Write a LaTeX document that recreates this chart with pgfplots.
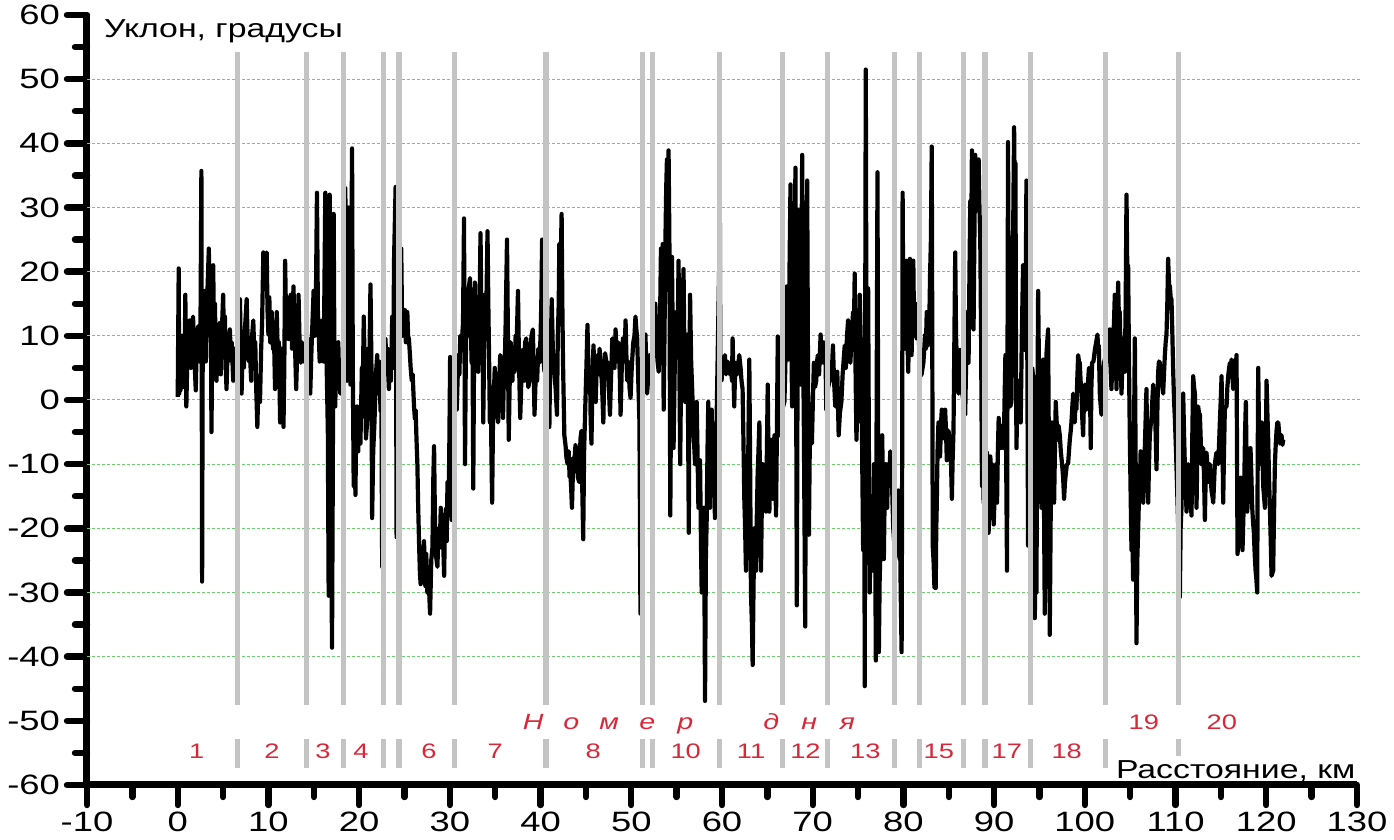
\documentclass[border=0pt]{standalone}
\usepackage{fontspec}
\setmainfont{Liberation Sans}[FakeStretch=1.3]
\usepackage{pgfplots}
\usepackage{pgfplotstable}
\pgfplotsset{compat=1.18}
\definecolor{daygray}{RGB}{196,196,196}
\definecolor{gridgreen}{RGB}{110,205,110}
\definecolor{dayred}{RGB}{214,40,57}

\pgfplotstableread{
x y
0.00 0.5
0.11 20.5
0.16 1.0
0.22 8
0.30 1.5
0.40 6
0.47 10
0.55 2
0.65 9
0.75 4
0.84 16.4
0.95 -1
1.05 6
1.15 10
1.25 7
1.32 12.4
1.45 5
1.55 11
1.69 13
1.80 8
1.99 1.5
2.10 9
2.25 11.5
2.40 6
2.50 9
2.61 35.7
2.69 -28.3
2.75 5
2.80 14
2.90 8
3.00 17
3.10 6
3.17 12
3.30 18
3.43 23.6
3.55 10
3.65 15
3.72 -5
3.80 8
3.91 21
4.00 11
4.10 15
4.20 7
4.28 3
4.40 10
4.50 6
4.64 12
4.75 4
4.85 10
5.01 16.4
5.10 9
5.20 13
5.30 5
5.38 1.7
5.50 8
5.60 6
5.75 11
5.85 7
5.95 9
6.12 3
6.25 8
6.35 5
6.49 5.8
6.60 3
6.75 9
6.86 15.7
7.04 1
7.15 8
7.30 5
7.45 12
7.60 15.7
7.70 10
7.85 6
7.97 7
8.10 3
8.20 10
8.33 12.4
8.45 7
8.55 9
8.65 2
8.78 -4.2
8.90 3
9.07 -0.3
9.20 8
9.30 12
9.44 23
9.55 18
9.65 21
9.81 23
9.90 14
10.00 10.2
10.10 16
10.20 9
10.36 13.7
10.50 8
10.60 11
10.73 1.7
10.82 7
10.92 13.7
11.05 6
11.15 9
11.29 -3.5
11.40 3
11.50 8
11.66 -4.2
11.75 5
11.84 21.7
11.95 12
12.05 16
12.21 9.5
12.35 14
12.47 16.4
12.60 8
12.76 17.7
12.90 10
13.06 1.7
13.20 9
13.32 16.4
13.45 8
13.57 5.8
13.70 9
13.87 6
14.00 8
14.30 7
14.42 9.5
14.61 1
14.75 8
14.98 17
15.10 10
15.25 18
15.35 32.3
15.45 14
15.53 11
15.65 6
15.75 10
15.90 12.4
16.05 6
16.15 14
16.27 32.3
16.35 10
16.45 3
16.55 -5
16.64 -30.5
16.75 32
16.85 10
16.92 -20
17.01 -38.6
17.10 -10
17.19 29
17.28 5
17.37 -1
17.45 8
17.56 4.4
17.70 9
17.80 3
17.93 1
18.05 6
18.20 3
18.40 8
18.48 33
18.55 10
18.67 3
18.75 12
18.85 30
18.95 8
19.04 2.4
19.13 20
19.22 39.2
19.30 5
19.40 -13.4
19.50 -5
19.59 -14.8
19.68 -4
19.77 -1
19.90 -8
20.00 -3
20.14 -6.8
20.30 5
20.40 2
20.51 13
20.65 2
20.75 -6
20.88 -3.5
21.00 8
21.10 3
21.25 18
21.35 6
21.43 -18.4
21.55 -8
21.69 -3.5
21.85 4
21.99 7
22.10 1
22.20 6
22.36 -1.7
22.45 2
22.54 -26
22.60 3
22.80 6
22.91 9.5
23.00 4
23.10 8
23.28 1.7
23.40 6
23.50 3
23.65 13
23.75 5
23.85 22
24.02 33.2
24.13 -21.4
24.25 8
24.50 12
24.64 23.6
24.75 10
24.85 13
24.94 11
25.05 14
25.15 9
25.31 13.7
25.40 10
25.49 9.5
25.60 7
25.68 5
25.80 3
25.90 4
26.05 -1
26.15 -3
26.23 -1.6
26.32 -6
26.42 -10
26.50 -16
26.60 -22
26.70 -27
26.78 -28.7
26.90 -23
27.00 -26
27.15 -22
27.30 -29
27.40 -24
27.52 -30
27.65 -26
27.75 -31
27.82 -33.3
27.95 -25
28.08 -23
28.18 -12
28.26 -7.2
28.35 -18
28.45 -24
28.63 -26
28.75 -20
28.90 -22
29.00 -16.8
29.10 -23
29.20 -19
29.37 -27.4
29.45 -20
29.55 -17
29.65 -22
29.74 -12.8
29.85 -18
29.95 -6
30.03 6.7
30.12 -2
30.21 -18.7
30.35 -3
30.50 2
30.65 6
30.76 -1.5
30.85 3
30.94 7
31.05 4
31.15 10
31.30 8.5
31.45 12
31.56 28.3
31.67 -10
31.75 5
31.85 15.7
31.95 10
32.05 17
32.22 19
32.30 12
32.40 5.8
32.50 9
32.58 -13.8
32.66 5
32.76 18.3
32.85 12
32.95 16
33.05 9
33.13 4.4
33.25 12
33.38 26
33.50 10
33.60 14
33.68 -3.5
33.78 8
33.86 16.4
33.95 10
34.05 17
34.15 26.3
34.25 14
34.33 6
34.41 -3.5
34.50 2
34.58 -8
34.66 -16
34.75 -4
34.85 1
34.95 5
35.05 2
35.15 -1
35.32 -3.5
35.45 3
35.55 7
35.68 6.3
35.78 2
35.86 -2.8
35.95 3
36.05 5
36.15 12
36.30 25
36.40 10
36.49 -6.2
36.60 3
36.70 9
36.78 7.8
36.90 3
37.00 8
37.14 4.4
37.25 10
37.35 8
37.51 17
37.60 8
37.68 2
37.76 -2.8
37.90 4
38.05 7.8
38.20 3
38.30 9
38.42 9.6
38.55 5
38.65 2
38.78 3
38.90 8
39.00 10
39.15 11
39.25 4
39.33 -2.3
39.45 3
39.62 3
39.75 8
39.88 5.8
40.00 10
40.08 15
40.17 25
40.25 12
40.35 6
40.43 4.4
40.52 8
40.61 9.6
40.75 3
40.85 -2
40.97 -4.2
41.05 5
41.15 10
41.23 15.7
41.35 8
41.45 6
41.52 4.4
41.65 2
41.81 -2.3
41.90 10
42.00 15
42.07 24.3
42.20 20
42.32 29
42.40 15
42.47 6.3
42.55 0
42.62 -5.5
42.75 -7
42.85 -9
42.98 -10
43.10 -8
43.20 -12
43.27 -11.5
43.35 -13
43.46 -16.8
43.55 -12
43.62 -9
43.71 -10
43.85 -7
44.00 -8.8
44.10 -12
44.26 -12.8
44.40 -6
44.51 -4.8
44.60 -14
44.70 -21.7
44.80 -8
44.92 -1.5
45.05 5
45.17 11.7
45.26 6
45.35 1.7
45.45 5
45.52 -3
45.61 -6.8
45.72 3
45.83 8.5
45.95 4
46.08 -0.3
46.18 5
46.27 7
46.40 4
46.50 8
46.63 5.8
46.78 2
46.92 -3.5
47.00 3
47.11 7.3
47.25 6
47.36 5.8
47.50 3
47.65 -2.3
47.78 4
47.91 9.6
48.05 7
48.15 5
48.27 11
48.40 6
48.55 9
48.64 7.8
48.73 4
48.82 -2.3
48.95 5
49.08 9.6
49.20 6
49.28 8
49.37 12.4
49.46 7
49.55 3
49.70 6
49.80 2
49.92 0.3
50.05 5
50.21 8.9
50.35 10
50.46 13
50.56 11
50.65 9.6
50.75 4
50.90 -3.5
51.01 -33.3
51.05 5
51.30 8
51.45 6
51.56 10.2
51.74 1
51.90 4
52.00 7
52.11 5
52.20 3
52.45 8
52.55 12
52.65 15
52.80 8
52.90 6
53.02 4.4
53.15 10
53.27 23.6
53.35 15
53.46 24.3
53.57 -1.5
53.66 10
53.75 23.6
53.85 33
53.93 37.5
54.03 30
54.11 38.9
54.20 25
54.30 -18
54.40 5
54.48 22.3
54.57 10
54.66 -7.5
54.80 6
54.95 13.7
55.10 8
55.21 21.7
55.30 6
55.39 -10
55.48 3
55.57 8.5
55.66 14
55.76 20.4
55.85 8
55.94 -0.3
56.05 5
56.19 10.2
56.27 -5
56.34 -20.7
56.41 5
56.48 16.4
56.60 6
56.78 -1
56.90 -6
57.03 -10
57.12 -4
57.21 -0.3
57.30 -8
57.40 -16.8
57.50 -12
57.58 -9.4
57.68 -22
57.76 -30
57.85 -20
57.94 -16.8
58.05 -25
58.13 -46.9
58.22 -25
58.31 -18.7
58.40 -8
58.49 -0.3
58.58 -8
58.68 -16.8
58.78 -5
58.86 -1.5
58.95 -8
59.04 -13.4
59.13 -10
59.22 -18.4
59.30 -12
59.77 27.6
59.82 3
59.95 3
60.10 6
60.20 5
60.32 7
60.45 4
60.55 6
60.68 5.8
60.85 4
60.98 5.8
61.10 3
61.17 9.6
61.26 4
61.35 -1
61.45 5
61.53 5.8
61.70 4
61.90 7
62.05 5
62.15 3
62.27 1.7
62.35 -5
62.46 -15.4
62.55 -20
62.64 -26.6
62.73 -20
62.83 -16.8
62.92 -5
63.01 6.3
63.10 -10
63.19 -30
63.30 -35
63.38 -41.3
63.47 -30
63.56 -20
63.65 -24
63.75 -26.6
63.84 -18
63.93 -11.5
64.02 -8
64.12 -3.5
64.20 -15
64.30 -26.6
64.40 -15
64.49 -10
64.58 -12
64.67 -10.8
64.76 -14
64.86 -17.4
64.95 -8
65.04 2.4
65.13 -10
65.22 -17.4
65.32 -12
65.41 -6.2
65.50 -10
65.59 -15.4
65.68 -9
65.78 -5.5
65.87 -12
65.96 -18
66.05 -5
66.15 9.9
66.28 0
66.40 -5.5
66.55 -2
66.88 -0.3
66.98 5
67.06 12
67.14 17.7
67.24 10
67.33 6.3
67.44 20
67.55 33.6
67.64 10
67.73 -1
67.82 8
67.92 17.7
68.01 25
68.10 36.2
68.18 0
68.25 -32
68.34 10
68.43 29.6
68.55 10
68.66 2.4
68.75 20
68.84 38.2
68.93 10
69.02 -3.5
69.10 -20
69.17 -35.3
69.27 5
69.39 34.2
69.48 5
69.58 -21
69.67 -8
69.76 -3.5
69.85 -6
69.91 -6.8
70.02 0
70.13 5.8
70.25 2
70.39 3
70.48 6
70.57 7
70.70 4
70.87 10.2
71.00 6
71.13 5.8
71.25 9
71.39 8.5
71.50 -1.5
71.70 2
71.87 3
72.00 6
72.10 4
72.23 8.5
72.35 3
72.49 -1
72.60 2
72.71 4.4
72.86 -5.5
73.00 -2
73.16 -0.3
73.30 4
73.40 6
73.53 8.5
73.65 5
73.78 10
73.90 12.4
74.00 7
74.15 5.8
74.30 10
74.45 13.7
74.55 12
74.63 19.7
74.72 5
74.82 -6.2
74.90 -2
75.00 -3.5
75.10 8
75.19 16.4
75.28 10
75.37 6.3
75.46 -10
75.56 -23.4
75.65 5
75.74 -44.6
75.80 20
75.85 51.5
75.92 10
76.00 -15
76.11 17.4
76.20 -10
76.29 -30
76.38 -15
76.48 -23.4
76.57 -20
76.66 -26.6
76.75 -10
76.85 -13.4
76.96 -40.6
77.05 0
77.14 35.5
77.22 -10
77.29 -39.3
77.38 -28
77.47 -23.4
77.56 -12
77.66 -5.5
77.75 -15
77.84 -24.8
77.93 -15
78.03 -10
78.12 -14
78.21 -16.8
78.30 -10
78.43 -13.4
78.55 -8
78.69 -10
78.80 -16
78.88 -20
79.10 -24.8
79.25 -23.4
79.35 -18
79.43 -14.1
79.52 -18
79.62 -20
79.70 -30
79.80 -39.3
79.86 -10
79.91 32.3
80.00 10
80.09 21
80.20 8
80.35 21.7
80.44 10
80.53 4.4
80.62 12
80.72 22
80.81 12
80.90 7
81.00 15
81.09 21.7
81.18 10
81.28 13.7
81.37 12
81.46 9.6
81.55 15
81.64 12.4
81.74 8
81.83 3.7
82.00 4
82.20 5.8
82.30 8
82.38 10.2
82.47 8
82.57 13.7
82.66 10
82.75 8.5
82.85 12
82.94 19.7
83.03 25
83.12 39.5
83.18 10
83.23 -22.7
83.32 -25
83.42 -29.3
83.50 -28
83.56 -29.3
83.62 -20
83.67 -16.8
83.76 -8
83.86 -3.5
83.95 -6
84.04 -8.8
84.13 -4
84.23 -1.5
84.32 -5
84.41 -3.5
84.50 -6
84.60 -1.5
84.70 -5
84.78 -9.4
84.88 -6
84.97 -4.8
85.06 -6
85.15 -7.5
85.25 -10
85.34 -15.4
85.43 -9
85.52 -4.8
85.62 10
85.71 23
85.80 10
85.89 6.3
85.98 2
86.07 1
86.17 4
86.26 7.8
86.40 2
86.81 -2.3
86.90 5
87.00 13.7
87.09 8
87.18 5.8
87.28 20
87.37 31
87.45 20
87.55 38.9
87.64 25
87.73 11
87.82 25
87.92 38.2
88.00 30
88.10 29.6
88.20 33
88.29 37.5
88.38 30
88.47 25
88.56 10
88.66 -13.4
88.75 0
88.84 -16
88.92 -10
89.03 -18.7
89.12 -12
89.21 -8.2
89.30 -14
89.39 -20.7
89.48 -15
89.58 -8.8
89.67 -12
89.76 -10
89.85 -15
89.95 -19.4
90.05 -15
90.13 -12.8
90.22 -10
90.32 -16
90.41 -8
90.50 -2.8
90.60 -5
90.69 -7.5
90.78 -4
90.87 -5.5
90.96 -4
91.05 -7.5
91.15 0
91.24 7
91.33 -10
91.42 -26.6
91.53 40.2
91.62 10
91.79 -1
91.90 -0.3
91.98 10
92.05 20
92.12 30
92.20 42.5
92.28 30
92.35 36.9
92.40 10
92.46 -7.5
92.55 0
92.64 3
92.75 -2
92.85 1
92.93 -3.5
93.05 10
93.19 21
93.30 10
93.38 7.8
93.47 15
93.56 34.2
93.65 10
93.74 -22.7
93.85 -10
94.10 0
94.20 5
94.29 3.7
94.38 -20
94.48 -34
94.57 -25
94.66 -30
94.75 -5
94.85 17
94.94 5
95.03 1.7
95.12 -8
95.21 -16.8
95.30 -5
95.40 6.3
95.49 -15
95.58 -33.3
95.67 -10
95.76 7
95.85 9
95.95 11
96.04 -10
96.13 -36.6
96.24 -16.8
96.39 -3.5
96.50 -8
96.61 -16
96.70 -8
96.79 -0.3
96.88 -3
96.98 -6.2
97.10 -4
97.24 -5.5
97.35 -8
97.49 -10
97.60 -12
97.71 -15.4
97.80 -13
97.90 -11.5
98.02 -10
98.15 -10
98.25 -8
98.34 -6.2
98.43 -5
98.52 -3.5
98.62 -1
98.71 1
98.80 -2
98.89 -3.5
98.98 0
99.07 -1.5
99.16 3
99.26 7
99.35 6
99.44 5.8
99.53 3
99.63 1
99.72 -3
99.81 -5.5
99.90 0
99.99 2.4
100.08 0
100.18 -1.5
100.27 1
100.36 3
100.45 5
100.54 4.4
100.65 -7.5
100.72 2
100.80 5.8
100.95 6
101.10 7.8
101.25 9
101.39 10.2
101.46 8
101.54 8.5
101.65 1
101.75 -1
101.83 -2.3
101.92 2
102.01 4.4
102.15 6
102.45 8
102.57 9.6
102.66 6
102.75 11
102.84 5
102.93 1.7
103.03 6
103.12 9.6
103.21 12
103.30 16.4
103.40 8
103.49 1.7
103.58 10
103.67 18.3
103.76 12
103.85 13.7
103.95 6
104.04 1
104.13 5
104.22 9.6
104.31 6
104.40 4.4
104.50 15
104.59 32
104.68 20
104.77 21
104.87 5
104.96 -6.2
105.05 -15
105.14 -23.4
105.23 -20
105.32 -28
105.42 -5
105.51 9.6
105.60 -10
105.69 -37.9
105.78 -25
105.88 -20
105.97 -15
106.06 -13.4
106.15 -8
106.24 -10
106.33 -14
106.43 -16
106.52 -10
106.61 -7.5
106.70 -3
106.79 1.7
106.88 -8
106.98 -16
107.07 -10
107.16 -5.5
107.25 -4
107.35 -2.8
107.44 0
107.53 2.4
107.62 1
107.71 -0.3
107.80 -5
107.90 -10.8
107.99 -2
108.08 4.4
108.17 6
108.26 5.8
108.35 4
108.45 3
108.54 2
108.63 1
108.72 4
108.82 7
108.91 9
109.00 10.2
109.09 15
109.18 22
109.28 18
109.37 17.7
109.46 16
109.55 15.7
109.65 10
109.74 4.4
109.83 0
109.92 -2.8
110.05 -8
110.40 -25
110.47 -30.7
110.56 -20
110.65 -16.8
110.75 -5
110.84 1
110.93 -5
111.02 -10
111.12 -14
111.21 -17.4
111.30 -12
111.39 -10
111.48 -12
111.57 -13.4
111.66 -16
111.76 -18
111.85 -5
111.94 3.7
112.04 2
112.13 1
112.22 -8
112.31 -16.8
112.40 -8
112.49 -1
112.58 -2
112.68 -2.3
112.77 -6
112.86 -10
112.95 -8
113.04 -7.5
113.14 -12
113.23 -18.7
113.32 -12
113.41 -8.2
113.50 -10
113.60 -12.8
113.69 -11
113.78 -10
113.87 -12
113.96 -14.1
114.06 -15
114.15 -16
114.24 -13
114.33 -10
114.42 -9
114.51 -8.2
114.61 -9
114.70 -10
114.79 -7
114.88 -3.5
114.98 0
115.07 3.7
115.16 -5
115.25 -16
115.34 -8
115.43 -1.5
115.53 -1
115.62 -1
115.71 2
115.80 3.7
115.90 5
115.99 5.8
116.08 4
116.17 6.3
116.26 4
116.35 1.7
116.45 4
116.54 6.3
116.63 5
116.72 7
116.83 -24
116.98 -20.7
117.10 -15
117.20 -12.1
117.29 -18
117.38 -23.4
117.48 -18
117.57 -13.4
117.66 -5
117.75 -0.3
117.83 -10
117.90 -17.4
117.99 -15
118.08 -13.4
118.17 -10
118.26 -7.5
118.36 -12
118.45 -16.8
118.54 -19
118.63 -20.7
118.72 -24
118.82 -26.6
118.91 -28
119.00 -30
119.05 -10
119.11 5
119.20 -5
119.29 -10
119.38 -7
119.48 -3.5
119.57 -8
119.66 -13.4
119.75 -15
119.85 -16.8
119.94 -8
120.03 3
120.12 -2
120.21 -6.2
120.30 -12
120.40 -16.8
120.49 -22
120.58 -27.4
120.67 -27
120.76 -26.6
120.85 -18
120.95 -10
121.04 -7
121.13 -4.8
121.22 -3.5
121.32 -3.5
121.41 -5
121.50 -6.8
121.59 -6
121.68 -5.5
121.78 -7
121.87 -6.2
}\slopedata

\begin{document}
\begin{tikzpicture}
\path[use as bounding box] (-43.5pt,-27.5pt) rectangle (653.5pt,392.5pt);
\begin{axis}[
  scale only axis, width=635pt, height=385pt,
  at={(0pt,0pt)}, anchor=south west,
  xmin=-10, xmax=130, ymin=-60, ymax=60,
  axis x line=bottom, axis y line=left,
  axis line style={-, line width=3.5pt, black},
  xtick={-10,0,...,130}, ytick={-60,-50,...,60},
  minor x tick num=1, minor y tick num=1,
  tick align=outside,
  major tick length=10pt, minor tick length=6pt,
  every tick/.style={black, line width=3.2pt, line cap=round},
  tick label style={font=\fontsize{14}{16}\selectfont},
  /pgf/number format/assume math mode=true,
  /pgf/number format/1000 sep={},
  clip=false,
]
\pgfplotsinvokeforeach{-40,-30,-20,-10,0,10,20,30,40,50}{
  \draw[gridgreen, line width=0.5pt, dash pattern=on 1.5pt off 1pt] (axis cs:-10,#1) -- (axis cs:130.5,#1);
}
\addplot[black, line width=2.1pt, line join=round, mark=none] table {\slopedata};
\pgfplotsinvokeforeach{6.6,14.2,18.3,22.7,24.4,30.5,40.6,51.2,52.3,59.7,66.7,71.6,79.0,81.8,86.6,89.0,94.0,102.3,110.3}{
  \draw[daygray, line width=2.6pt] (axis cs:#1,-47.5) -- (axis cs:#1,54.2);
}
\pgfplotsinvokeforeach{6.6,14.2,18.3,22.7,24.4,30.5,40.6,51.2,52.3,59.7,66.7,71.6,79.0,81.8,86.6,89.0,94.0,102.3}{
  \draw[daygray, line width=2.6pt] (axis cs:#1,-52.8) -- (axis cs:#1,-57.3);
}
\draw[daygray, line width=2.6pt] (axis cs:110.3,-52.8) -- (axis cs:110.3,-55.5);

\node[anchor=base west, font=\fontsize{13}{15}\selectfont] at (axis cs:-8.9,56.5) {Уклон, градусы};
\node[anchor=base east, font=\fontsize{13}{15}\selectfont] at (axis cs:130.6,-59.0) {Расстояние, км};

\tikzset{daylab/.style={anchor=base, text=dayred, font=\fontsize{10.5}{12}\selectfont}}
\node[daylab] at (axis cs:2.1,-55.9) {1};
\node[daylab] at (axis cs:10.4,-55.9) {2};
\node[daylab] at (axis cs:16.0,-55.9) {3};
\node[daylab] at (axis cs:20.2,-55.9) {4};
\node[daylab] at (axis cs:27.7,-55.9) {6};
\node[daylab] at (axis cs:35.0,-55.9) {7};
\node[daylab] at (axis cs:45.8,-55.9) {8};
\node[daylab] at (axis cs:56.0,-55.9) {10};
\node[daylab] at (axis cs:63.2,-55.9) {11};
\node[daylab] at (axis cs:69.2,-55.9) {12};
\node[daylab] at (axis cs:75.8,-55.9) {13};
\node[daylab] at (axis cs:83.9,-55.9) {15};
\node[daylab] at (axis cs:91.4,-55.9) {17};
\node[daylab] at (axis cs:98.0,-55.9) {18};
\node[daylab] at (axis cs:106.5,-51.4) {19};
\node[daylab] at (axis cs:115.1,-51.4) {20};
\node[anchor=base, text=dayred, inner sep=0pt, font=\fontsize{11}{13}\selectfont\itshape] at (axis cs:56.5,-51.4)
  {\makebox[19pt]{Н}\makebox[19pt]{о}\makebox[19pt]{м}\makebox[19pt]{е}\makebox[19pt]{р}\makebox[24pt]{ }\makebox[19pt]{д}\makebox[19pt]{н}\makebox[19pt]{я}};
\end{axis}
\end{tikzpicture}
\end{document}
